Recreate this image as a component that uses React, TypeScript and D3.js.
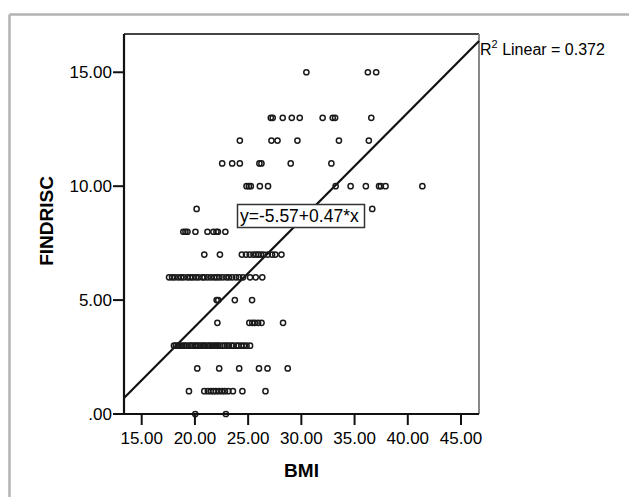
import React from "react";
import * as d3 from "d3";

// FINDRISC score rows and the BMI values read for each row
const findriscLevels = [15, 13, 12, 11, 10, 9, 8, 7, 6, 5, 4, 3, 2, 1, 0];
const bmiRow15 = [30.47, 36.25, 37.03];
const bmiRow13 = [27.13, 27.31, 28.25, 29.1, 29.85, 32.0, 32.95, 33.17, 36.57];
const bmiRow12 = [24.22, 27.19, 27.76, 29.63, 33.53, 36.34];
const bmiRow11 = [22.56, 23.5, 24.22, 26.06, 26.25, 29.0, 32.82];
const bmiRow10 = [24.85, 25.07, 25.25, 26.1, 26.87, 33.22, 34.63, 36.06, 37.3, 37.47, 37.91, 41.37];
const bmiRow9 = [20.16, 36.66];
const bmiRow8 = [18.91, 19.11, 19.3, 20.05, 21.18, 21.74, 22.02, 22.16, 22.86];
const bmiRow7 = [20.88, 22.35, 24.41, 24.8, 25.15, 25.5, 25.75, 25.95, 26.2, 26.45, 26.85, 27.25, 27.55, 28.13];
const bmiRow6 = [17.57, 17.85, 18.1, 18.42, 18.7, 18.95, 19.3, 19.55, 19.8, 20.1, 20.35, 20.7, 20.9, 21.2, 21.5, 21.8, 22.05, 22.3, 22.6, 22.95, 23.2, 23.5, 23.85, 24.15, 24.52, 25.18, 25.71, 26.33];
const bmiRow5 = [22.04, 22.19, 23.75, 25.37];
const bmiRow4 = [22.11, 25.11, 25.39, 25.63, 25.94, 26.26, 28.28];
const bmiRow3 = [18.03, 18.2, 18.4, 18.55, 18.8, 19.0, 19.15, 19.4, 19.6, 19.75, 20.0, 20.1, 20.3, 20.5, 20.7, 20.85, 21.0, 21.25, 21.4, 21.6, 21.8, 22.0, 22.15, 22.35, 22.6, 22.8, 23.0, 23.2, 23.45, 23.6, 23.9, 24.1, 24.35, 24.6, 24.85, 25.18];
const bmiRow2 = [20.22, 22.28, 24.16, 26.02, 26.82, 28.72];
const bmiRow1 = [19.44, 20.88, 21.22, 21.5, 21.74, 21.97, 22.25, 22.54, 22.82, 23.14, 23.57, 24.46, 26.63];
const bmiRow0 = [20.03, 22.91];
const bmiRows = [bmiRow15, bmiRow13, bmiRow12, bmiRow11, bmiRow10, bmiRow9, bmiRow8, bmiRow7, bmiRow6, bmiRow5, bmiRow4, bmiRow3, bmiRow2, bmiRow1, bmiRow0];

const xTicks = [15, 20, 25, 30, 35, 40, 45];
const yTicks = [0, 5, 10, 15];
const intercept = -5.57;
const slope = 0.47;
const rSquared = "0.372";
const equationLabel = "y=-5.57+0.47*x";

const W = 629;
const H = 497;
const plot = { left: 124, right: 479, top: 34, bottom: 414 };
const FONT = "'Liberation Sans', Arial, sans-serif";

export default function App() {
  const x = d3.scaleLinear().domain([13.337, 46.69]).range([plot.left, plot.right]);
  const y = d3.scaleLinear().domain([0, 16.68]).range([plot.bottom, plot.top]);

  const points: { bmi: number; score: number }[] = [];
  findriscLevels.forEach((s, i) => bmiRows[i].forEach((b) => points.push({ bmi: b, score: s })));

  const [x0, x1] = x.domain();
  const [y0, y1] = y.domain();
  const lx0 = Math.max(x0, (y0 - intercept) / slope);
  const lx1 = Math.min(x1, (y1 - intercept) / slope);
  const line = d3.line<number>().x((d) => x(d)).y((d) => y(intercept + slope * d));

  const fmt = (v: number) => {
    const s = d3.format(".2f")(v);
    return s.startsWith("0") ? s.slice(1) : s;
  };

  return (
    <svg
      width={W}
      height={H}
      style={{ position: "absolute", left: 0, top: 0, background: "#fff" }}
      fontFamily={FONT}
    >
      <line x1={9.5} y1={14.5} x2={W} y2={14.5} stroke="#b3b3b3" strokeWidth={2.5} />
      <line x1={9.5} y1={14.5} x2={9.5} y2={H} stroke="#b3b3b3" strokeWidth={2.5} />

      <line x1={plot.left} y1={plot.top} x2={plot.right} y2={plot.top} stroke="#444" strokeWidth={2} />
      <line x1={plot.right} y1={plot.top} x2={plot.right} y2={plot.bottom} stroke="#888" strokeWidth={2} />

      <path d={line([lx0, lx1]) || ""} fill="none" stroke="#111" strokeWidth={2.2} />

      {points.map((p, i) => (
        <circle key={i} cx={x(p.bmi)} cy={y(p.score)} r={2.6} fill="none" stroke="#1a1a1a" strokeWidth={1.5} />
      ))}

      <line x1={plot.left} y1={plot.top} x2={plot.left} y2={plot.bottom} stroke="#111" strokeWidth={2.2} />
      <line x1={plot.left} y1={plot.bottom} x2={plot.right} y2={plot.bottom} stroke="#111" strokeWidth={2.2} />

      {yTicks.map((t) => (
        <g key={"y" + t}>
          <line x1={plot.left - 11} x2={plot.left} y1={y(t)} y2={y(t)} stroke="#111" strokeWidth={2} />
          <text x={plot.left - 12} y={y(t)} dy="0.36em" textAnchor="end" fontSize={17} fill="#000">
            {fmt(t)}
          </text>
        </g>
      ))}
      {xTicks.map((t) => (
        <g key={"x" + t}>
          <line x1={x(t)} x2={x(t)} y1={plot.bottom} y2={plot.bottom + 11} stroke="#111" strokeWidth={2} />
          <text x={x(t)} y={444} textAnchor="middle" fontSize={17} fill="#000">
            {fmt(t)}
          </text>
        </g>
      ))}

      <text x={(plot.left + plot.right) / 2} y={477} textAnchor="middle" fontSize={19} fontWeight="bold" fill="#000">
        BMI
      </text>
      <text
        transform={`translate(53,${(plot.top + plot.bottom) / 2 - 3}) rotate(-90)`}
        textAnchor="middle"
        fontSize={19}
        fontWeight="bold"
        fill="#000"
      >
        FINDRISC
      </text>

      <rect x={237.5} y={204.5} width={127} height={23} fill="#fff" stroke="#333" strokeWidth={1.5} />
      <text x={240} y={222} fontSize={17.5} fill="#000">
        {equationLabel}
      </text>

      <text x={480} y={55} fontSize={16} fill="#000">
        R
        <tspan fontSize={11} dy={-7}>2</tspan>
        <tspan dy={7}>{" Linear = " + rSquared}</tspan>
      </text>
    </svg>
  );
}
